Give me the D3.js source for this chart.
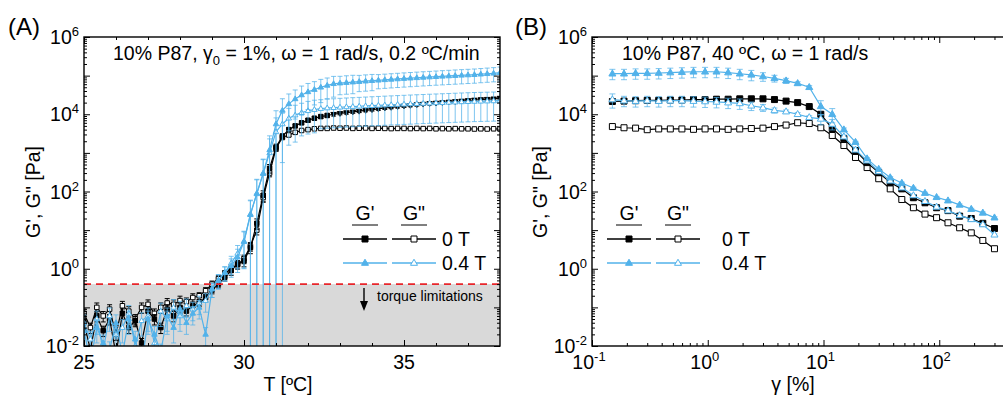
<!DOCTYPE html>
<html>
<head>
<meta charset="utf-8">
<script src="https://cdn.jsdelivr.net/npm/d3@7"></script>
<style>
  body { margin: 0; background: #fff; }
  svg text { font-family: "Liberation Sans", Arial, sans-serif; fill: #000; }
</style>
</head>
<body>
<script>
// ---- Panel A: temperature ramp, 0.2 ºC/min ----
const tempC = [25.0,25.2,25.4,25.6,25.8,26.0,26.2,26.4,26.6,26.8,27.0,27.2,27.4,27.6,27.8,28.0,28.2,28.4,28.6,28.8,
  29.0,29.2,29.4,29.6,29.8,30.0,30.2,30.4,30.6,30.8,31.0,31.2,31.4,31.6,31.8,32.0,32.2,32.4,32.6,32.8,
  33.0,33.2,33.4,33.6,33.8,34.0,34.2,34.4,34.6,34.8,35.0,35.2,35.4,35.6,35.8,36.0,36.2,36.4,36.6,36.8,
  37.0,37.2,37.4,37.6,37.8,38.0]

const gp0T_A = [0.04,0.008,0.06,0.025,0.05,0.006,0.07,0.03,0.045,0.012,
  0.08,0.05,0.03,0.09,0.06,0.1,0.08,0.11,0.13,0.18,
  0.28,0.4,0.6,0.9,1.3,1.6,3.5,15,80,400,
  1400,2700,4000,5000,6000,7000,7900,8700,9300,10000,
  10500,11000,11500,12000,12600,13200,13800,14500,15100,15800,
  16400,17000,17700,18300,19000,19500,20000,20700,21400,22000,
  22700,23400,24000,24500,25100,25700]
const gpp0T_A = [0.07,0.03,0.1,0.06,0.09,0.02,0.11,0.08,0.05,0.1,
  0.12,0.07,0.1,0.13,0.12,0.15,0.14,0.18,0.2,0.27,
  0.4,0.55,0.75,1.0,1.3,1.8,3.8,10,70,300,
  1300,2500,2900,3400,3800,4000,4200,4300,4300,4400,
  4350,4400,4300,4350,4400,4300,4350,4300,4250,4300,
  4300,4250,4300,4250,4300,4200,4250,4200,4250,4200,
  4200,4150,4200,4150,4200,4150]
const gp04T_A = [0.025,0.004,0.03,0.012,0.008,0.04,0.006,0.05,0.015,0.003,
  0.05,0.02,0.007,0.06,0.03,0.09,0.04,0.07,0.1,0.02,
  0.3,0.5,0.8,1.2,2.0,5,25,90,300,1200,
  5600,12600,18600,25000,31600,38000,43600,50000,56000,61600,
  64000,66000,68000,70000,72000,74000,76000,78000,80000,82000,
  84000,86000,88000,90000,92000,94000,96000,98000,100000,102000,
  104000,106000,109000,112000,115000,119000]
const gpp04T_A = [0.04,0.015,0.05,0.008,0.06,0.02,0.03,0.07,0.01,0.045,
  0.06,0.012,0.08,0.05,0.1,0.06,0.11,0.09,0.13,0.15,
  0.3,0.5,0.8,1.4,2.5,5.2,26,87,290,1000,
  3500,5600,7900,9500,11000,12300,13200,14000,14500,14800,
  15200,15500,15800,16100,16400,16700,17000,17300,17600,17900,
  18200,18500,18800,19100,19400,19700,20000,20300,20600,20900,
  21200,21500,21700,21900,22100,22400]

// relative standard deviations (sd / value)
const errGp0T_A = [0.3,0.3,0.3,0.3,0.3,0.3,0.3,0.3,0.3,0.3,
  0.3,0.3,0.3,0.3,0.3,0.3,0.25,0.25,0.2,0.2,
  0.2,0.2,0.2,0.25,0.25,0.3,0.3,0.3,0.3,0.25,
  0.2,0.15,0.12,0.1,0.1,0.1,0.1,0.1,0.1,0.1,
  0.08,0.08,0.08,0.08,0.08,0.08,0.08,0.08,0.08,0.08,
  0.08,0.08,0.08,0.08,0.08,0.08,0.08,0.08,0.08,0.08,
  0.08,0.08,0.08,0.08,0.08,0.08]
const errGpp0T_A = [0.3,0.3,0.3,0.3,0.3,0.3,0.3,0.3,0.3,0.3,
  0.3,0.3,0.3,0.3,0.3,0.3,0.25,0.25,0.2,0.2,
  0.2,0.2,0.2,0.2,0.2,0.25,0.25,0.25,0.25,0.2,
  0.15,0.1,0.08,0.06,0.06,0.05,0.05,0.05,0.05,0.05,
  0.05,0.05,0.05,0.05,0.05,0.05,0.05,0.05,0.05,0.05,
  0.05,0.05,0.05,0.05,0.05,0.05,0.05,0.05,0.05,0.05,
  0.05,0.05,0.05,0.05,0.05,0.05]
const errGp04T_A = [0.6,0.6,0.6,0.6,0.6,0.6,0.6,0.6,0.6,0.6,
  0.6,0.6,0.6,0.6,0.6,0.6,0.5,0.5,0.5,0.5,
  0.4,0.4,0.4,0.5,0.6,0.8,1.3,1.3,1.3,1.3,
  1.2,1.0,0.8,0.7,0.7,0.65,0.6,0.6,0.55,0.55,
  0.5,0.5,0.5,0.45,0.45,0.45,0.4,0.4,0.4,0.4,
  0.4,0.4,0.4,0.4,0.4,0.4,0.4,0.4,0.4,0.4,
  0.4,0.4,0.4,0.4,0.4,0.4]
const errGpp04T_A = [0.6,0.6,0.6,0.6,0.6,0.6,0.6,0.6,0.6,0.6,
  0.6,0.6,0.6,0.6,0.6,0.6,0.5,0.5,0.5,0.5,
  0.4,0.4,0.4,0.5,0.6,0.8,1.3,1.3,1.3,1.3,
  1.3,0.9,0.8,0.8,0.75,0.75,0.75,0.7,0.7,0.7,
  0.7,0.7,0.7,0.7,0.7,0.7,0.7,0.7,0.7,0.7,
  0.7,0.7,0.7,0.7,0.7,0.7,0.7,0.7,0.7,0.7,
  0.7,0.7,0.7,0.7,0.7,0.7]

// ---- Panel B: strain sweep at 40 ºC ----
const strain = [0.15,0.189,0.238,0.3,0.377,0.475,0.598,0.753,0.948,1.19,
  1.5,1.89,2.38,3.0,3.77,4.75,5.98,7.53,9.48,11.9,
  15.0,18.9,23.8,30.0,37.7,47.5,59.8,75.3,94.8,119,
  150,189,238,300]

const gp0T_B = [21400,21900,22400,22900,22900,23400,23400,24000,24000,24500,
  24500,25100,25100,25100,24000,21900,20000,15800,10000,4270,
  2340,1150,560,310,170,117,69,51,38,32,
  23,20,15,11]
const gpp0T_B = [4800,4470,4370,3980,4170,4170,4170,4070,4170,4170,
  4070,4170,4270,4370,4790,5250,6030,5750,4470,2820,
  1550,760,417,214,117,62,38,26,21,15.5,
  11.5,8.5,5.4,3.3]
const gp04T_B = [112000,112000,115000,115000,117000,120000,123000,126000,126000,126000,
  120000,112000,105000,95000,85000,74000,63000,50000,16000,10000,
  4000,1900,710,380,230,166,123,91,71,58,
  45,35,28,21]
const gpp04T_B = [24000,22400,21900,22400,21900,22400,22400,21900,21400,20900,
  20000,19100,16600,14800,12600,11700,10000,8300,7600,5600,
  2630,1200,630,330,190,126,79,56,40,32,
  24,19,14,7.6]

const errGp0T_B = [0.1,0.03,0.03,0.03,0.03,0.03,0.03,0.03,0.03,0.03,
  0.03,0.03,0.03,0.03,0.03,0.03,0.03,0.03,0.05,0.05,
  0.03,0.03,0.03,0.03,0.03,0.03,0.03,0.03,0.03,0.03,
  0.03,0.03,0.03,0.03]
const errGpp0T_B = [0.05,0.03,0.03,0.1,0.03,0.03,0.03,0.03,0.03,0.03,
  0.03,0.03,0.03,0.03,0.03,0.03,0.03,0.03,0.05,0.05,
  0.03,0.03,0.03,0.03,0.03,0.03,0.03,0.03,0.03,0.03,
  0.03,0.03,0.03,0.03]
const errGp04T_B = [0.3,0.3,0.3,0.3,0.3,0.3,0.3,0.3,0.3,0.3,
  0.3,0.3,0.3,0.25,0.2,0.15,0.1,0.1,0.4,0.4,
  0.1,0.05,0.05,0.05,0.05,0.05,0.05,0.05,0.05,0.05,
  0.05,0.05,0.05,0.05]
const errGpp04T_B = [0.4,0.3,0.3,0.3,0.3,0.3,0.3,0.3,0.3,0.3,
  0.3,0.3,0.25,0.2,0.15,0.1,0.1,0.1,0.3,0.3,
  0.1,0.05,0.05,0.05,0.05,0.05,0.05,0.05,0.05,0.05,
  0.05,0.05,0.05,0.05]

const modYTicks = [-2, -1, 0, 1, 2, 3, 4, 5, 6]          // decades on G axis
const labelYTicks = [-2, 0, 2, 4, 6]
const tempTicks = [25, 30, 35]
const strainDecades = [-1, 0, 1, 2, 3]
const strainLabels = [-1, 0, 1, 2]                       // 10^3 falls outside the page

const W = 1003, H = 395
const black = "#000000"
const blue = "#52b2ea"
const FS = "19.5px", FSUP = "13px"

const svg = d3.select("body").append("svg")
  .attr("width", W).attr("height", H)

// shared y (log) range for both panels
const yTop = 37, yBot = 346

function minorLogTicks(lo, hi) {
  let out = []
  for (let d = lo; d < hi; d++)
    for (let m = 2; m <= 9; m++) out.push(m * Math.pow(10, d))
  return out
}

function supLabel(sel, base, exp, anchor) {
  sel.attr("text-anchor", anchor).style("font-size", FS)
  sel.append("tspan").text(base)
  sel.append("tspan").attr("dy", -8).style("font-size", FSUP).text(exp)
}

function markerPath(shape, s) {
  if (shape === "square") return `M${-s/2},${-s/2}h${s}v${s}h${-s}Z`
  let h = s * 0.866
  if (shape === "triUp") return `M0,${-h*0.62}L${s/2},${h*0.38}L${-s/2},${h*0.38}Z`
  return `M0,${h*0.62}L${s/2},${-h*0.38}L${-s/2},${-h*0.38}Z`
}

function drawSeries(g, xs, x, y, s, opt) {
  let pts = xs.map((xv, i) => ({x: xv, v: s.v[i], e: s.e[i] * s.v[i]}))
  let floor = y.domain()[0] / 100

  // error bars
  let eb = g.append("g").attr("stroke", s.color).attr("stroke-width", 1)
    .attr("stroke-opacity", s.color === blue ? 0.75 : 1)
  pts.forEach(p => {
    let px = x(p.x)
    let lo = Math.max(p.v - p.e, floor), hi = p.v + p.e
    eb.append("line").attr("x1", px).attr("x2", px).attr("y1", y(lo)).attr("y2", y(hi))
    eb.append("line").attr("x1", px - opt.cap).attr("x2", px + opt.cap).attr("y1", y(hi)).attr("y2", y(hi))
    if (p.v - p.e > floor)
      eb.append("line").attr("x1", px - opt.cap).attr("x2", px + opt.cap).attr("y1", y(lo)).attr("y2", y(lo))
  })

  // connecting line
  g.append("path").datum(pts)
    .attr("fill", "none").attr("stroke", s.color).attr("stroke-width", opt.lw)
    .attr("d", d3.line().x(d => x(d.x)).y(d => y(d.v)))

  // symbols
  g.append("g").selectAll("path").data(pts).join("path")
    .attr("transform", d => `translate(${x(d.x)},${y(d.v)})`)
    .attr("d", d => {
      let shp = s.shapeAt ? s.shapeAt(d.x) : s.shape
      return markerPath(shp, shp === "square" ? opt.sq : opt.tri)
    })
    .attr("fill", s.filled ? s.color : "#fff")
    .attr("stroke", s.color).attr("stroke-width", 1)
}

function frame(g, x, y, xTicks, xMinor) {
  let x0 = x.range()[0], x1 = x.range()[1]
  let yMinor = minorLogTicks(-2, 6)
  let yMajor = modYTicks.map(d => Math.pow(10, d))
  let tk = g.append("g").attr("class", "ticks")
  const addAxis = (axis, tr) => {
    let a = tk.append("g").attr("transform", tr).call(axis)
    a.select(".domain").remove()
    a.selectAll("text").remove()
    a.selectAll("line").attr("stroke", "#000").attr("stroke-width", 1)
  }
  addAxis(d3.axisLeft(y).tickValues(yMajor).tickSize(-6).tickSizeOuter(0), `translate(${x0},0)`)
  addAxis(d3.axisLeft(y).tickValues(yMinor).tickSize(-3).tickSizeOuter(0), `translate(${x0},0)`)
  addAxis(d3.axisRight(y).tickValues(yMajor).tickSize(-6).tickSizeOuter(0), `translate(${x1},0)`)
  addAxis(d3.axisRight(y).tickValues(yMinor).tickSize(-3).tickSizeOuter(0), `translate(${x1},0)`)
  addAxis(d3.axisBottom(x).tickValues(xTicks).tickSize(-6).tickSizeOuter(0), `translate(0,${yBot})`)
  addAxis(d3.axisBottom(x).tickValues(xMinor).tickSize(-3).tickSizeOuter(0), `translate(0,${yBot})`)
  addAxis(d3.axisTop(x).tickValues(xTicks).tickSize(-6).tickSizeOuter(0), `translate(0,${yTop})`)
  addAxis(d3.axisTop(x).tickValues(xMinor).tickSize(-3).tickSizeOuter(0), `translate(0,${yTop})`)

  g.append("rect").attr("x", x0).attr("y", yTop)
    .attr("width", x1 - x0).attr("height", yBot - yTop)
    .attr("fill", "none").attr("stroke", "#000").attr("stroke-width", 1.4)

  // y labels
  labelYTicks.forEach(e => {
    supLabel(g.append("text").attr("x", x0 - 5).attr("y", y(Math.pow(10, e)) + 7), "10", e, "end")
  })
}

function legend(g, x0, xText, yHead) {
  const rows = [{label: "0 T", color: black, shape: "square"},
                {label: "0.4 T", color: blue, shape: "triUp"}]
  const cols = [{name: "G'", cx: x0 + 22}, {name: 'G"', cx: x0 + 71}]
  cols.forEach(c => {
    g.append("text").attr("x", c.cx).attr("y", yHead).attr("text-anchor", "middle")
      .style("font-size", FS).text(c.name)
    g.append("line").attr("x1", c.cx - 13).attr("x2", c.cx + 13)
      .attr("y1", yHead + 5).attr("y2", yHead + 5).attr("stroke", "#000").attr("stroke-width", 1)
  })
  rows.forEach((r, i) => {
    let yy = yHead + 19 + i * 24
    cols.forEach((c, j) => {
      g.append("line").attr("x1", c.cx - 22).attr("x2", c.cx + 22).attr("y1", yy).attr("y2", yy)
        .attr("stroke", r.color).attr("stroke-width", 1.3)
      g.append("path").attr("transform", `translate(${c.cx},${yy})`)
        .attr("d", markerPath(r.shape, r.shape === "square" ? 6 : 7))
        .attr("fill", j === 0 ? r.color : "#fff").attr("stroke", r.color).attr("stroke-width", 1)
    })
    g.append("text").attr("x", xText).attr("y", yy + 7).style("font-size", FS).text(r.label)
  })
}

// ================= Panel A =================
const xA = d3.scaleLinear().domain([25, 38]).range([84, 500])
const yA = d3.scaleLog().domain([1e-2, 1e6]).range([yBot, yTop])
const gA = svg.append("g")

svg.append("clipPath").attr("id", "clipA").append("rect")
  .attr("x", 84).attr("y", yTop).attr("width", 416).attr("height", yBot - yTop)

// torque limit zone
const torqueLimit = 0.4
gA.append("rect").attr("x", xA(25)).attr("y", yA(torqueLimit))
  .attr("width", xA(38) - xA(25)).attr("height", yA(1e-2) - yA(torqueLimit))
  .attr("fill", "#d9d9d9")

const dataA = gA.append("g").attr("clip-path", "url(#clipA)")
const seriesA = [
  {v: gpp0T_A, e: errGpp0T_A, color: black, filled: false, shape: "square"},
  {v: gp0T_A, e: errGp0T_A, color: black, filled: true, shape: "square",
   shapeAt: t => t >= 32.8 ? "triDown" : "square"},
  {v: gpp04T_A, e: errGpp04T_A, color: blue, filled: false, shape: "triUp"},
  {v: gp04T_A, e: errGp04T_A, color: blue, filled: true, shape: "triUp"}
]
seriesA.forEach(s => drawSeries(dataA, tempC, xA, yA, s, {cap: 2.5, lw: 1.2, sq: 4.5, tri: 5.5}))

gA.append("line").attr("x1", xA(25)).attr("x2", xA(38))
  .attr("y1", yA(torqueLimit)).attr("y2", yA(torqueLimit))
  .attr("stroke", "#e8262b").attr("stroke-width", 1.6).attr("stroke-dasharray", "7,5")

// arrow + note
gA.append("line").attr("x1", 364).attr("x2", 364).attr("y1", 288).attr("y2", 304)
  .attr("stroke", "#000").attr("stroke-width", 1.4)
gA.append("path").attr("d", "M360,301L368,301L364,311Z").attr("fill", "#000")
gA.append("text").attr("x", 377).attr("y", 301).style("font-size", "14px").text("torque limitations")

frame(gA, xA, yA, tempTicks, [26, 27, 28, 29, 31, 32, 33, 34, 36, 37])

tempTicks.forEach(t => {
  gA.append("text").attr("x", xA(t)).attr("y", 369).attr("text-anchor", "middle")
    .style("font-size", FS).text(t)
})
gA.append("text").attr("x", 288).attr("y", 391).attr("text-anchor", "middle")
  .style("font-size", FS).text("T [ºC]")
gA.append("text").attr("transform", "translate(40,192) rotate(-90)").attr("text-anchor", "middle")
  .style("font-size", FS).text('G\', G" [Pa]')
gA.append("text").attr("x", 8).attr("y", 35).style("font-size", "24px").text("(A)")

const titleA = gA.append("text").attr("x", 113).attr("y", 60).style("font-size", FS)
titleA.append("tspan").text("10% P87, γ")
titleA.append("tspan").attr("dy", 5).style("font-size", FSUP).text("0")
titleA.append("tspan").attr("dy", -5).text(" = 1%, ω = 1 rad/s, 0.2 ºC/min")

legend(gA, 343, 442, 220)

// ================= Panel B =================
const xB = d3.scaleLog().domain([0.1, 1000]).range([592, 1055])
const yB = d3.scaleLog().domain([1e-2, 1e6]).range([yBot, yTop])
const gB = svg.append("g")

svg.append("clipPath").attr("id", "clipB").append("rect")
  .attr("x", 592).attr("y", yTop).attr("width", 463).attr("height", yBot - yTop)

const dataB = gB.append("g").attr("clip-path", "url(#clipB)")
const seriesB = [
  {v: gpp0T_B, e: errGpp0T_B, color: black, filled: false, shape: "square"},
  {v: gp0T_B, e: errGp0T_B, color: black, filled: true, shape: "square"},
  {v: gpp04T_B, e: errGpp04T_B, color: blue, filled: false, shape: "triUp"},
  {v: gp04T_B, e: errGp04T_B, color: blue, filled: true, shape: "triUp"}
]
seriesB.forEach(s => drawSeries(dataB, strain, xB, yB, s, {cap: 3, lw: 1.2, sq: 6, tri: 7}))

frame(gB, xB, yB, strainDecades.map(d => Math.pow(10, d)), minorLogTicks(-1, 3))

strainLabels.forEach(d => {
  supLabel(gB.append("text").attr("x", xB(Math.pow(10, d)) - 3).attr("y", 369), "10", d, "middle")
})
gB.append("text").attr("x", 793).attr("y", 391).attr("text-anchor", "middle")
  .style("font-size", FS).text("γ [%]")
gB.append("text").attr("transform", "translate(547,192) rotate(-90)").attr("text-anchor", "middle")
  .style("font-size", FS).text('G\', G" [Pa]')
gB.append("text").attr("x", 515).attr("y", 35).style("font-size", "24px").text("(B)")
gB.append("text").attr("x", 622).attr("y", 60).style("font-size", FS)
  .text("10% P87, 40 ºC, ω = 1 rad/s")

legend(gB, 607, 722, 220)
</script>
</body>
</html>
